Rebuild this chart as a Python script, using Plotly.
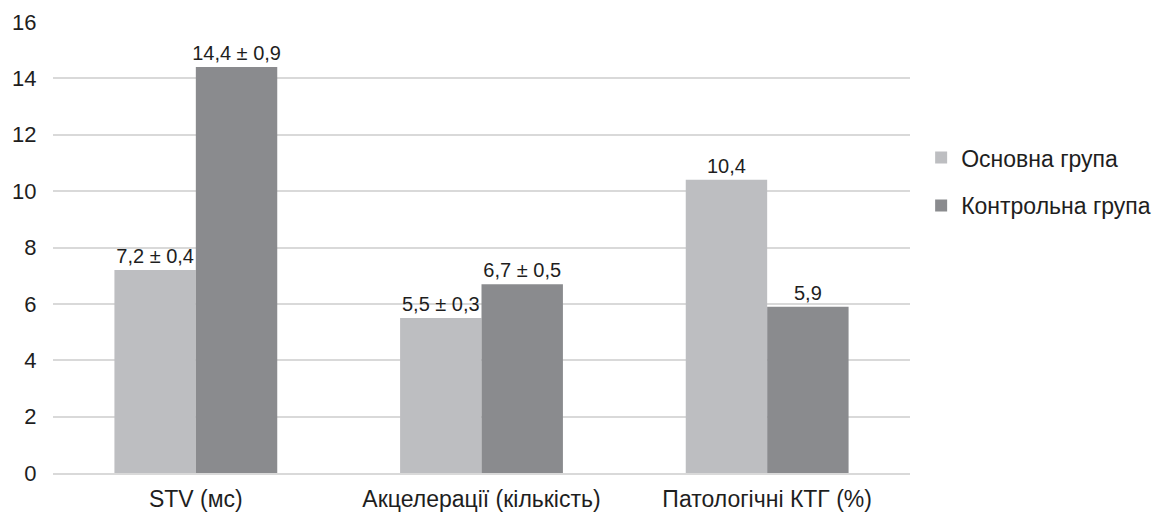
import plotly.graph_objects as go

categories = ["STV (мс)", "Акцелерації (кількість)", "Патологічні КТГ (%)"]
series_names = ["Основна група", "Контрольна група"]
main_values = [7.2, 5.5, 10.4]
control_values = [14.4, 6.7, 5.9]
main_labels = ["7,2 ± 0,4", "5,5 ± 0,3", "10,4"]
control_labels = ["14,4 ± 0,9", "6,7 ± 0,5", "5,9"]
y_ticks = [0, 2, 4, 6, 8, 10, 12, 14, 16]

FONT = "Liberation Sans, Arial, sans-serif"
TXT = "#1e1e1e"

fig = go.Figure()
fig.add_trace(go.Bar(
    x=categories, y=main_values, name=series_names[0],
    marker=dict(color="#bdbec1", line=dict(width=0)),
    text=main_labels, textposition="outside", constraintext="none",
    textfont=dict(family=FONT, size=20, color=TXT), cliponaxis=False,
    legendgroup="a",
))
fig.add_trace(go.Bar(
    x=categories, y=control_values, name=series_names[1],
    marker=dict(color="#8a8b8e", line=dict(width=0)),
    text=control_labels, textposition="outside", constraintext="none",
    textfont=dict(family=FONT, size=20, color=TXT), cliponaxis=False,
    legendgroup="b",
))

fig.update_layout(
    width=1154, height=506,
    margin=dict(l=45, r=252, t=14, b=41, autoexpand=False),
    paper_bgcolor="white", plot_bgcolor="white",
    barmode="group", bargap=0.43, bargroupgap=0,
    font=dict(family=FONT, color=TXT, size=22),
    legend=dict(
        x=1.013, y=0.646, xanchor="left", yanchor="middle",
        font=dict(family=FONT, size=23, color=TXT),
        tracegroupgap=15, itemwidth=30,
    ),
    xaxis=dict(
        automargin=False,
        showgrid=False, showline=True, linecolor="#d9d9d9", linewidth=2,
        tickfont=dict(family=FONT, size=23, color=TXT),
        ticks="outside", ticklen=4, tickcolor="rgba(0,0,0,0)",
    ),
    yaxis=dict(
        automargin=False,
        range=[0, 16], tickvals=y_ticks, showgrid=True,
        gridcolor="#d9d9d9", gridwidth=2, zeroline=False, showline=False,
        tickfont=dict(family=FONT, size=22, color=TXT),
        ticks="outside", ticklen=11, tickcolor="rgba(0,0,0,0)",
    ),
)

fig.write_html("out.html")
